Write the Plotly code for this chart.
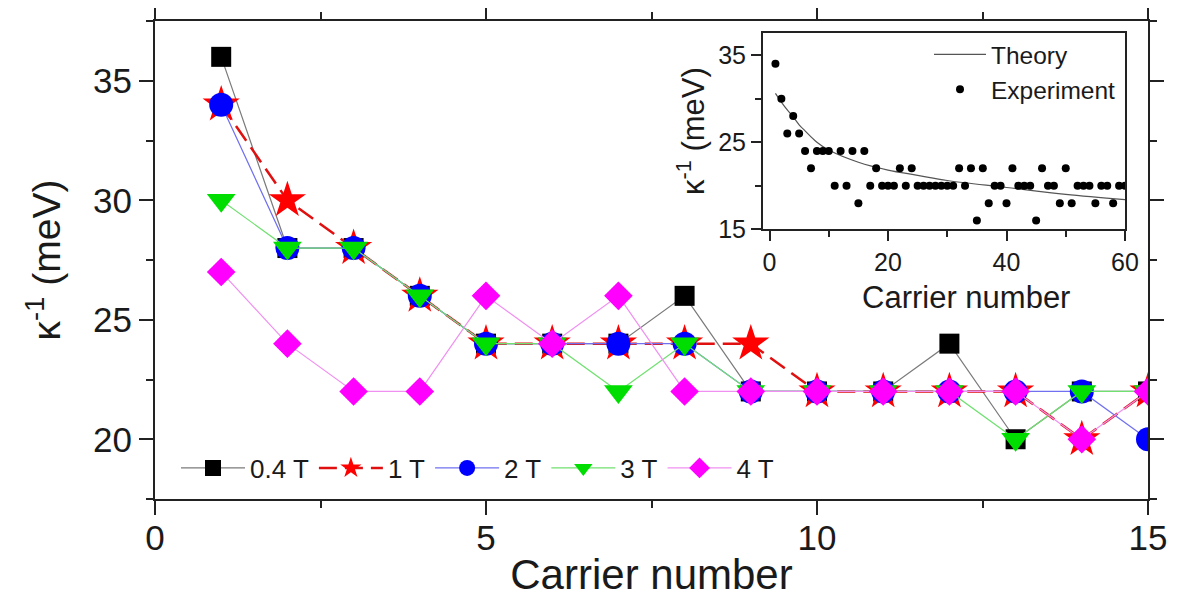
import plotly.graph_objects as go

# ---------------- data ----------------
carrier = list(range(1, 16))
k_04T = [36, 28, 28, 26, 24, 24, 24, 26, 22, 22, 22, 24, 20, 22, 22]
k_1T = [34, 30, 28, 26, 24, 24, 24, 24, 24, 22, 22, 22, 22, 20, 22]
k_2T = [34, 28, 28, 26, 24, 24, 24, 24, 22, 22, 22, 22, 22, 22, 20]
k_3T = [30, 28, 28, 26, 24, 24, 22, 24, 22, 22, 22, 22, 20, 22, 22]
k_4T = [27, 24, 22, 22, 26, 24, 26, 22, 22, 22, 22, 22, 22, 20, 22]
series_names = ["0.4 T", "1 T", "2 T", "3 T", "4 T"]

inset_carrier = list(range(1, 61))
inset_exp = [34, 30, 26, 28, 26, 24, 22, 24, 24, 24,
             20, 24, 20, 24, 18, 24, 20, 22, 20, 20,
             20, 22, 20, 22, 20, 20, 20, 20, 20, 20,
             20, 22, 20, 22, 16, 22, 18, 20, 20, 18,
             22, 20, 20, 20, 16, 22, 20, 20, 18, 22,
             18, 20, 20, 20, 18, 20, 20, 18, 20, 20]
theory_x = [1, 2, 3, 4, 5, 6, 8, 10, 15, 20, 25, 30, 40, 50, 60]
theory_y = [30.6, 29.6, 28.7, 27.9, 27.0, 26.3, 25.0, 24.1, 22.7, 21.8,
            21.2, 20.6, 19.8, 19.0, 18.4]

FONT = "Liberation Sans, Arial, sans-serif"

fig = go.Figure()

styles = [
    dict(values=k_04T, symbol="square", size=20, color="#000000",
         line=dict(color="#7a7a7a", width=1.2)),
    dict(values=k_1T, symbol="star", size=28, color="#ff0000",
         line=dict(color="#e01010", width=2.5, dash="18px,8px")),
    dict(values=k_2T, symbol="circle", size=24, color="#0000ff",
         line=dict(color="#7070f0", width=1.2)),
    dict(values=k_3T, symbol="triangle-down", size=25, color="#00dd00",
         line=dict(color="#70e070", width=1.2)),
    dict(values=k_4T, symbol="diamond", size=22, color="#ff00ff",
         line=dict(color="#f090f0", width=1.2)),
]

for name, st in zip(series_names, styles):
    fig.add_trace(go.Scatter(
        x=carrier, y=st["values"], name=name, mode="lines+markers",
        line=st["line"],
        marker=dict(symbol=st["symbol"], size=st["size"], color=st["color"],
                    line=dict(width=0)),
        xaxis="x", yaxis="y", legend="legend",
    ))

fig.add_trace(go.Scatter(
    x=theory_x, y=theory_y, name="Theory", mode="lines",
    line=dict(color="#555555", width=1.2, shape="spline"),
    xaxis="x2", yaxis="y2", legend="legend2",
))
fig.add_trace(go.Scatter(
    x=inset_carrier, y=inset_exp, name="Experiment", mode="markers",
    marker=dict(symbol="circle", size=8, color="#000000"),
    xaxis="x2", yaxis="y2", legend="legend2",
))

# page has an 8px body margin: work in screen pixels, convert to figure pixels
OFF = 8
W, H = 1185 - OFF, 598 - OFF
PL, PR, PT, PB = 155, 1148, 21, 499          # plot frame in screen pixels
L, T = PL - OFF, PT - OFF
R, B = W - (PR - OFF), H - (PB - OFF)
pw, ph = PR - PL, PB - PT


def px_x(p):
    return (p - PL) / pw


def px_y(p):
    return (PB - p) / ph


axis_common = dict(
    showline=True, linecolor="#222222", linewidth=2,
    ticks="outside", tickcolor="#222222", tickwidth=2,
    showgrid=False, zeroline=False, automargin=False,
)

fig.update_layout(
    width=W, height=H,
    margin=dict(l=L, r=R, t=T, b=B, autoexpand=False),
    paper_bgcolor="white", plot_bgcolor="white",
    font=dict(family=FONT, color="#1a1a1a"),
    xaxis=dict(
        **axis_common, range=[0, 15], tick0=0, dtick=5, ticklen=14,
        mirror="ticks", ticklabelstandoff=-7,
        minor=dict(dtick=2.5, ticklen=7, tickwidth=2, ticks="outside",
                   tickcolor="#222222"),
        tickfont=dict(size=35),
        title=dict(text="Carrier number", font=dict(size=42), standoff=14),
    ),
    yaxis=dict(
        **axis_common, range=[17.5, 37.5], tick0=0, dtick=5, ticklen=14,
        mirror="ticks",
        minor=dict(dtick=2.5, ticklen=7, tickwidth=2, ticks="outside",
                   tickcolor="#222222"),
        tickfont=dict(size=35),
        title=dict(text="κ<sup>-1</sup> (meV)", font=dict(size=39), standoff=20),
    ),
    xaxis2=dict(
        **axis_common, domain=[px_x(763), px_x(1125)], anchor="y2",
        range=[-1.1, 60], tick0=0, dtick=20, ticklen=10, mirror=True,
        minor=dict(dtick=10, ticklen=6, tickwidth=2, ticks="outside",
                   tickcolor="#222222"),
        tickfont=dict(size=25),
    ),
    yaxis2=dict(
        **axis_common, domain=[px_y(229.3), px_y(33.3)], anchor="x2",
        range=[15, 37.5], tick0=15, dtick=10, ticklen=10, mirror=True,
        minor=dict(dtick=5, ticklen=6, tickwidth=2, ticks="outside",
                   tickcolor="#222222"),
        tickfont=dict(size=25),
    ),
    legend=dict(
        orientation="h", x=px_x(176), y=px_y(468), xanchor="left",
        yanchor="middle", font=dict(size=26), itemwidth=64,
        bgcolor="rgba(0,0,0,0)", tracegroupgap=0,
    ),
    legend2=dict(
        orientation="v", x=px_x(929), y=px_y(32), xanchor="left",
        yanchor="top", font=dict(size=24.5), itemwidth=52,
        bgcolor="rgba(0,0,0,0)",
    ),
    showlegend=True,
    annotations=[
        dict(text="Carrier number", xref="paper", yref="paper",
             x=px_x(966), y=px_y(297), xanchor="center", yanchor="middle",
             showarrow=False, font=dict(size=31)),
        dict(text="κ<sup>-1</sup> (meV)", xref="paper", yref="paper",
             x=px_x(691), y=px_y(131), xanchor="center", yanchor="middle",
             textangle=-90, showarrow=False, font=dict(size=31)),
    ],
)

fig.write_html("out.html")
